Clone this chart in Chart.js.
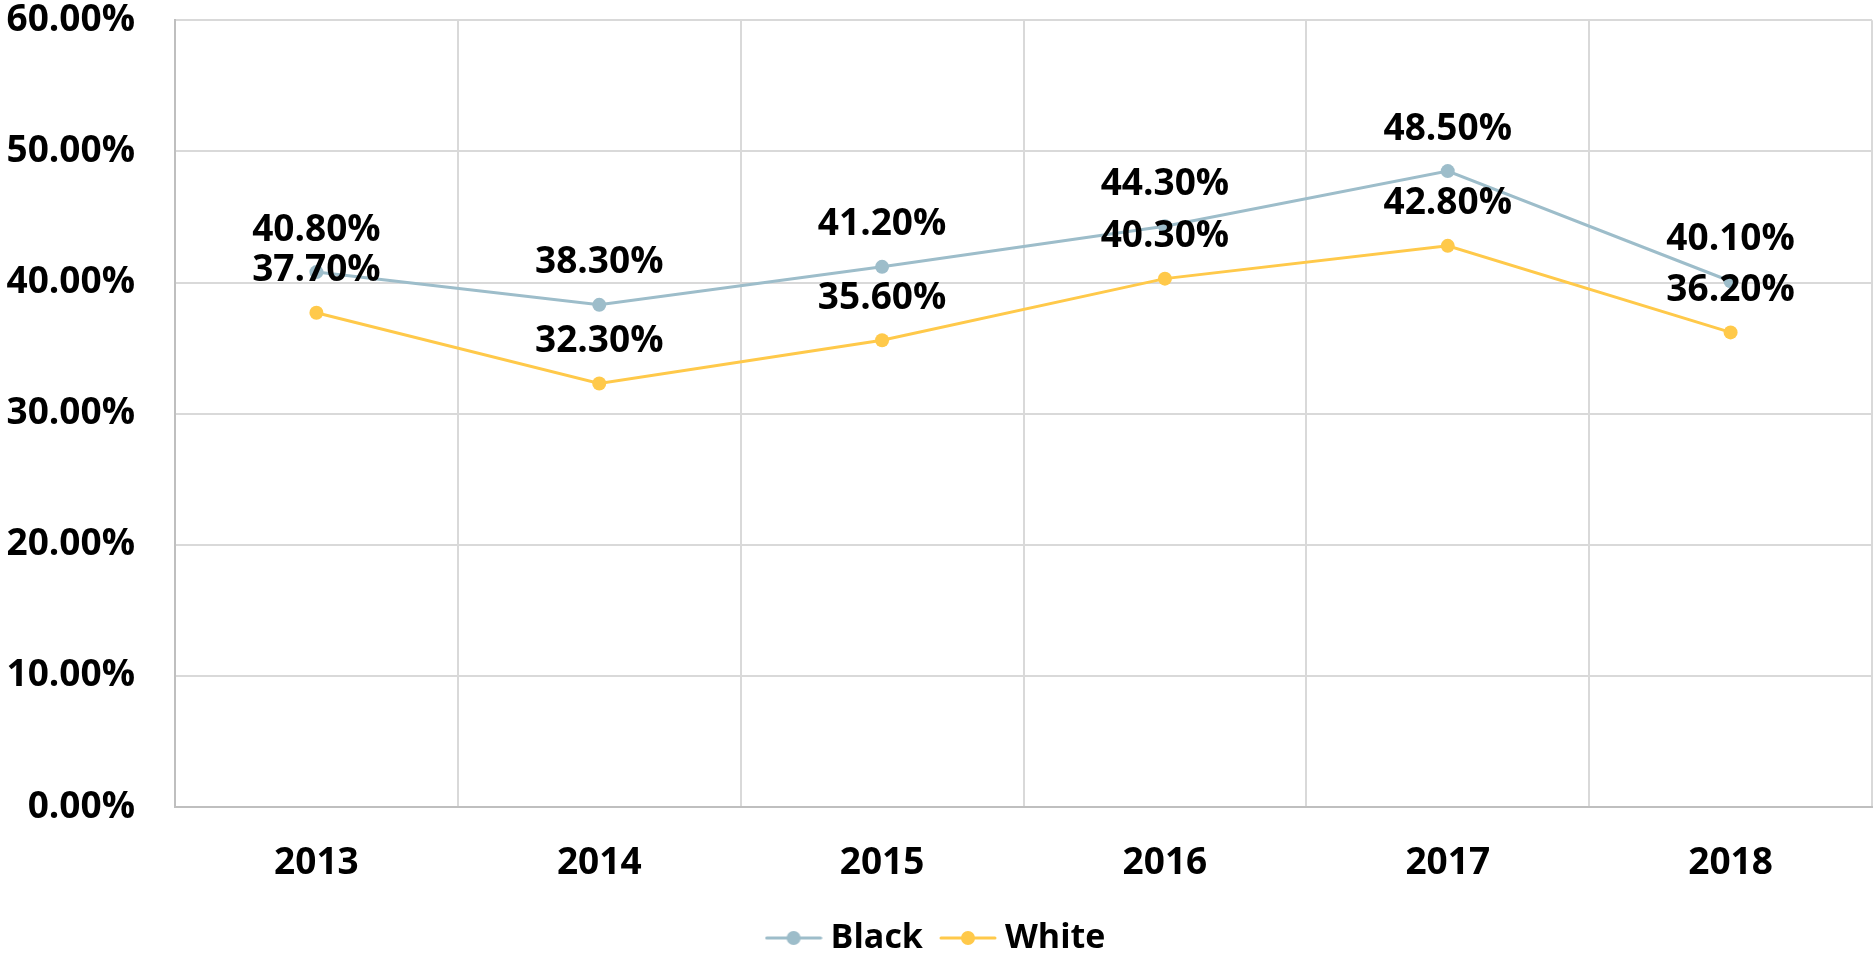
<!DOCTYPE html>
<html>
<head>
<meta charset="utf-8">
<script src="https://cdn.jsdelivr.net/npm/chart.js@4.4.1/dist/chart.umd.min.js"></script>
<style>
  html, body { margin: 0; padding: 0; background: #fff; }
  #wrap { width: 1875px; height: 957px; }
</style>
</head>
<body>
<div id="wrap"><canvas id="chart"></canvas></div>
<script>
var years = ["2013", "2014", "2015", "2016", "2017", "2018"];
var black = [40.8, 38.3, 41.2, 44.3, 48.5, 40.1];
var white = [37.7, 32.3, 35.6, 40.3, 42.8, 36.2];
var yTicks = [0, 10, 20, 30, 40, 50, 60];

var FONT = "'Open Sans', 'Noto Sans', sans-serif";
var blueGray = '#9dbdca';
var yellow = '#ffc94a';

// little line + dot picture for the legend
function legendIcon(color) {
    var c = document.createElement('canvas');
    c.width = 58; c.height = 16;
    var g = c.getContext('2d');
    g.strokeStyle = color;
    g.lineWidth = 3;
    g.lineCap = 'round';
    g.beginPath(); g.moveTo(2, 8); g.lineTo(56, 8); g.stroke();
    g.fillStyle = color;
    g.beginPath(); g.arc(29, 8, 7, 0, Math.PI * 2); g.fill();
    return c;
}

// value labels above each point
var valueLabels = {
    id: 'valueLabels',
    afterDatasetsDraw: function(chart) {
        var ctx = chart.ctx;
        ctx.save();
        ctx.font = 'bold 37px ' + FONT;
        ctx.fillStyle = '#000';
        ctx.textAlign = 'center';
        ctx.textBaseline = 'middle';
        chart.data.datasets.forEach(function(ds, i) {
            var meta = chart.getDatasetMeta(i);
            meta.data.forEach(function(pt, j) {
                ctx.fillText(ds.data[j].toFixed(2) + '%', pt.x, pt.y - 42);
            });
        });
        ctx.restore();
    }
};

var ctx = document.getElementById('chart');

var chartGraph = new Chart(ctx, {
    type: 'line',
    data: {
        labels: years,
        datasets: [{
            label: 'Black',
            data: black,
            borderColor: blueGray,
            backgroundColor: blueGray,
            borderWidth: 3,
            pointRadius: 7,
            pointHoverRadius: 7,
            pointBorderWidth: 0,
            tension: 0
        }, {
            label: 'White',
            data: white,
            borderColor: yellow,
            backgroundColor: yellow,
            borderWidth: 3,
            pointRadius: 7,
            pointHoverRadius: 7,
            pointBorderWidth: 0,
            tension: 0
        }]
    },
    options: {
        responsive: true,
        maintainAspectRatio: false,
        animation: false,
        layout: { autoPadding: false, padding: { left: 7, right: 3, top: 0, bottom: -8 } },
        plugins: {
            tooltip: { enabled: false },
            legend: {
                position: 'bottom',
                labels: {
                    usePointStyle: true,
                    pointStyleWidth: 40,
                    padding: 25,
                    color: '#000',
                    font: { family: FONT, size: 34, weight: 'bold' },
                    generateLabels: function(chart) {
                        return chart.data.datasets.map(function(ds, i) {
                            return {
                                text: ds.label,
                                pointStyle: legendIcon(ds.borderColor),
                                fillStyle: ds.borderColor,
                                strokeStyle: ds.borderColor,
                                lineWidth: 0,
                                fontColor: '#000',
                                datasetIndex: i
                            };
                        });
                    }
                }
            }
        },
        scales: {
            x: {
                offset: true,
                afterFit: function(scale) { scale.height = 89; },
                grid: { offset: true, color: '#d9d9d9', lineWidth: 2, drawTicks: false },
                border: { color: '#bfbfbf', width: 2 },
                ticks: {
                    color: '#000',
                    padding: 34,
                    font: { family: FONT, size: 37, weight: 'bold' }
                }
            },
            y: {
                min: 0,
                max: 60,
                afterBuildTicks: function(scale) {
                    scale.ticks = yTicks.map(function(v) { return { value: v }; });
                },
                afterFit: function(scale) { scale.width = 168; },
                grid: {
                    color: '#d9d9d9', lineWidth: 2,
                    drawTicks: true, tickLength: 40, tickColor: 'rgba(0,0,0,0)'
                },
                border: { color: '#bfbfbf', width: 2 },
                ticks: {
                    color: '#000',
                    padding: 0,
                    font: { family: FONT, size: 37, weight: 'bold', lineHeight: 1.1 },
                    callback: function(v) { return v.toFixed(2) + '%'; }
                }
            }
        }
    },
    plugins: [valueLabels]
});
</script>
</body>
</html>
